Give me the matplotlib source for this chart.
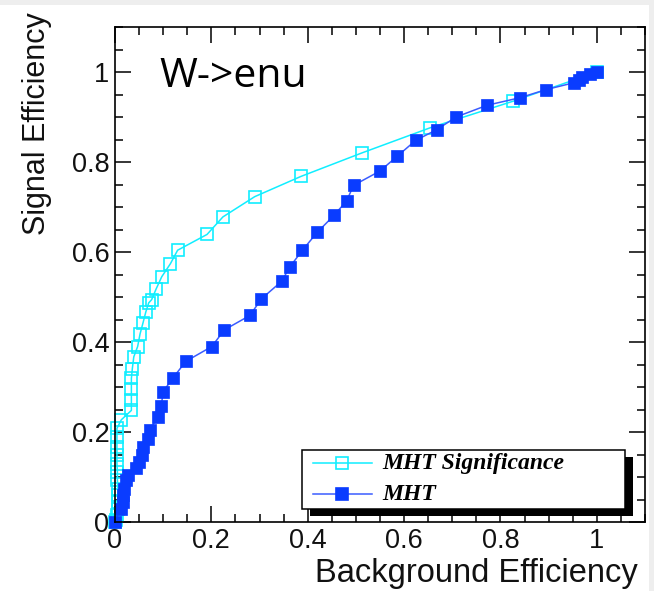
import matplotlib
matplotlib.use("Agg")
import matplotlib.pyplot as plt
from matplotlib.patches import Rectangle
from matplotlib.lines import Line2D
from matplotlib.ticker import MultipleLocator

# ---------------- data ----------------
sig_x = [1.0, 0.826, 0.654, 0.512, 0.386, 0.290, 0.224, 0.191, 0.130, 0.115,
         0.097, 0.085, 0.076, 0.070, 0.064, 0.058, 0.052, 0.047, 0.039, 0.036,
         0.034, 0.034, 0.034, 0.034, 0.013, 0.004, 0.004, 0.004, 0.004, 0.004,
         0.005, 0.005, 0.006, 0.006, 0.006, 0.006, 0.005, 0.002, 0.0]
sig_y = [1.0, 0.935, 0.876, 0.820, 0.768, 0.723, 0.678, 0.639, 0.604, 0.574,
         0.545, 0.517, 0.494, 0.487, 0.467, 0.442, 0.418, 0.390, 0.367, 0.341,
         0.319, 0.295, 0.271, 0.248, 0.227, 0.208, 0.189, 0.166, 0.148, 0.130,
         0.111, 0.093, 0.074, 0.059, 0.044, 0.030, 0.015, 0.005, 0.0]

mht_x = [1.0, 0.985, 0.969, 0.962, 0.952, 0.895, 0.841, 0.772, 0.708, 0.668,
         0.624, 0.586, 0.550, 0.495, 0.481, 0.455, 0.420, 0.389, 0.363, 0.346,
         0.304, 0.280, 0.227, 0.201, 0.147, 0.121, 0.100, 0.096, 0.089, 0.072,
         0.068, 0.058, 0.055, 0.049, 0.043, 0.028, 0.023, 0.019, 0.017, 0.016,
         0.012, 0.0]
mht_y = [1.0, 0.995, 0.990, 0.983, 0.976, 0.961, 0.943, 0.926, 0.900, 0.872,
         0.848, 0.813, 0.780, 0.748, 0.714, 0.682, 0.644, 0.604, 0.567, 0.535,
         0.496, 0.459, 0.427, 0.390, 0.357, 0.321, 0.290, 0.258, 0.233, 0.205,
         0.185, 0.166, 0.150, 0.133, 0.119, 0.104, 0.093, 0.074, 0.059, 0.044,
         0.030, 0.0]

tick_vals = [0, 0.2, 0.4, 0.6, 0.8, 1.0]
tick_labels = ["0", "0.2", "0.4", "0.6", "0.8", "1"]
series_names = ["MHT Significance", "MHT"]
title_text = "W->enu"
xlabel_text = "Background Efficiency"
ylabel_text = "Signal Efficiency"

# ---------------- styling ----------------
W, H = 654, 591
CYAN = "#10eeff"
BLUE = "#0a3cff"
BLUE_LINE = "#3a5cff"

fig = plt.figure(figsize=(W / 100, H / 100), dpi=100)
fig.patch.set_facecolor("white")

# light grey border strips seen in the reference
fig.patches.append(Rectangle((0, 1 - 5 / H), 1, 5 / H, transform=fig.transFigure,
                             facecolor="#eeeeee", edgecolor="none", zorder=0))
fig.patches.append(Rectangle((1 - 5 / W, 0), 5 / W, 1, transform=fig.transFigure,
                             facecolor="#eeeeee", edgecolor="none", zorder=0))

ax = fig.add_axes([115 / W, (H - 522) / H, (645 - 115) / W, (522 - 27) / H])
ax.set_xlim(0, 1.1)
ax.set_ylim(0, 1.1)

ax.plot(sig_x, sig_y, color=CYAN, lw=1.1, marker="s", ms=8.4,
        mfc="none", mec=CYAN, mew=1.2, clip_on=False, zorder=3)
ax.plot(mht_x, mht_y, color=BLUE_LINE, lw=1.1, marker="s", ms=8.2,
        mfc=BLUE, mec=BLUE, mew=0.5, clip_on=False, zorder=4)

for s in ax.spines.values():
    s.set_linewidth(1.2)
    s.set_color("black")
    s.set_zorder(5)

ax.set_xticks(tick_vals)
ax.set_xticklabels(tick_labels)
ax.set_yticks(tick_vals)
ax.set_yticklabels(tick_labels)
ax.xaxis.set_minor_locator(MultipleLocator(0.05))
ax.yaxis.set_minor_locator(MultipleLocator(0.05))
ax.tick_params(which="both", direction="in", top=True, right=True, width=1.1,
               color="black")
ax.tick_params(which="major", length=11.5)
ax.tick_params(which="minor", length=6)
ax.tick_params(axis="x", which="major", pad=4, labelsize=19.5)
ax.tick_params(axis="y", which="major", pad=4, labelsize=19.5)
for lab in ax.get_xticklabels() + ax.get_yticklabels():
    lab.set_family("Liberation Sans")
    lab.set_color("#111111")

# title text inside plot
ax.text(0.093, 0.967, title_text, fontsize=29.5, family="Open Sans",
        color="black", ha="left", va="baseline", zorder=6)

# axis titles
fig.text(638 / W, (H - 581.7) / H, xlabel_text, fontsize=23.5,
         family="Liberation Sans", ha="right", va="baseline", color="#111111")
fig.text(37 / W, (H - 12) / H, ylabel_text, fontsize=22, rotation=90,
         family="Liberation Sans", ha="center", va="top", color="#111111")

# ---------------- legend (ROOT style with black shadow) ----------------
def fx(px):
    return px / W

def fy(py):
    return (H - py) / H

lx0, lx1, ly0, ly1 = 302, 625, 450, 509
sh = 8
fig.patches.append(Rectangle((fx(lx0 + sh), fy(ly1 + 7)), fx(lx1 - lx0), (ly1 - ly0) / H,
                             transform=fig.transFigure, facecolor="black",
                             edgecolor="none", zorder=7))
fig.patches.append(Rectangle((fx(lx0), fy(ly1)), fx(lx1 - lx0), (ly1 - ly0) / H,
                             transform=fig.transFigure, facecolor="white",
                             edgecolor="black", lw=1.1, zorder=8))

entries = [
    (463, CYAN, CYAN, "none", 8.4),
    (494, BLUE_LINE, BLUE, BLUE, 8.2),
]
for (yc, lc, mc, mf, ms), name in zip(entries, series_names):
    fig.lines.append(Line2D([fx(313), fx(372)], [fy(yc), fy(yc)],
                            transform=fig.transFigure, color=lc, lw=1.1, zorder=9))
    fig.lines.append(Line2D([fx(342)], [fy(yc)], transform=fig.transFigure,
                            marker="s", ms=ms, mfc=mf, mec=mc, mew=1.2,
                            linestyle="none", zorder=10))
    fig.text(fx(382), fy(yc), name, fontsize=17, family="Liberation Serif",
             style="italic", weight="bold", ha="left", va="center",
             color="black", zorder=10)

fig.savefig("out.png", dpi=100)
